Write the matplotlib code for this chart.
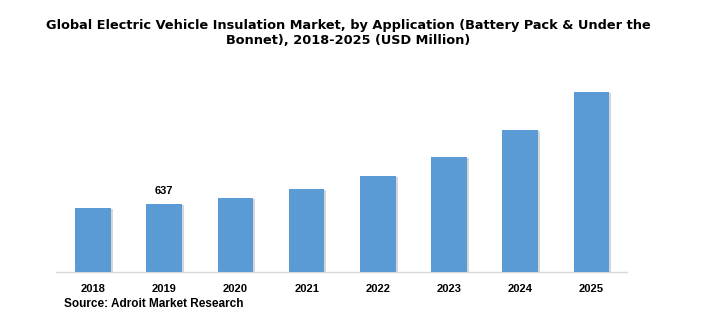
import matplotlib
matplotlib.use("Agg")
import matplotlib.pyplot as plt
import matplotlib.patheffects as pe

years = ["2018", "2019", "2020", "2021", "2022", "2023", "2024", "2025"]
values = [600, 637, 693, 777, 899, 1077, 1330, 1686]
labeled_index = 1

plt.rcParams['font.family'] = ['Liberation Sans', 'DejaVu Sans']

fig = plt.figure(figsize=(7.16, 3.12), dpi=100)
ax = fig.add_axes([56/716, 1-272/312, (627-56)/716, (272-69)/312])

bars = ax.bar(range(len(years)), values, width=0.5, color="#5B9BD5", zorder=3)
for b in bars:
    b.set_path_effects([pe.SimplePatchShadow(offset=(1.5, -1), shadow_rgbFace="#bbbbbb", alpha=0.6), pe.Normal()])

ax.annotate(str(values[labeled_index]), (labeled_index, values[labeled_index]),
            xytext=(0, 6), textcoords="offset points",
            ha="center", va="bottom", fontsize=8, fontweight="bold")

ax.set_xlim(-0.52, 7.5)
ax.set_ylim(0, 1900)
ax.set_xticks(range(len(years)))
ax.set_xticklabels(years, fontsize=8, fontweight="bold")
ax.tick_params(axis="x", length=0, pad=9)
ax.set_yticks([])
for s in ["top", "right", "left"]:
    ax.spines[s].set_visible(False)
ax.spines["bottom"].set_color("#d9d9d9")
ax.spines["bottom"].set_linewidth(1)

fig.text(348/716, 1-33/312, "Global Electric Vehicle Insulation Market, by Application (Battery Pack & Under the\nBonnet), 2018-2025 (USD Million)",
         ha="center", va="center", fontsize=9.3, fontweight="bold", linespacing=1.2,
         family=["DejaVu Sans"])
fig.text(64/716, 1-304/312, "Source: Adroit Market Research", ha="left", va="center",
         fontsize=8.5, fontweight="bold")

fig.savefig("out.png", dpi=100)
